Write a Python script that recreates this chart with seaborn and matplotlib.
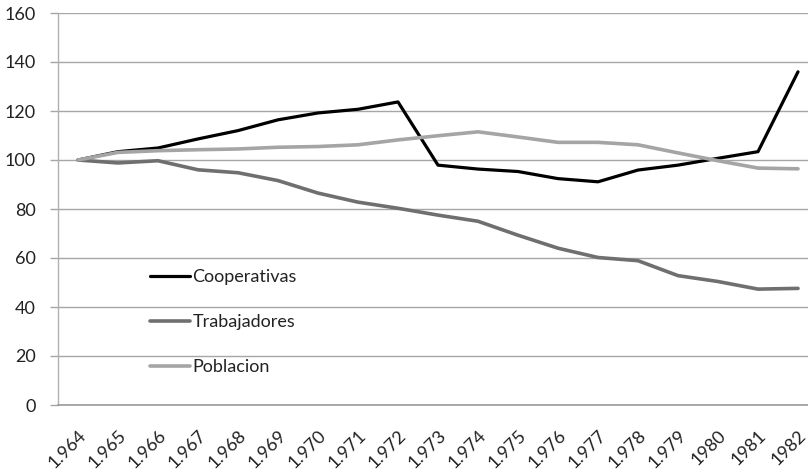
import matplotlib
matplotlib.use("Agg")
import matplotlib.pyplot as plt
import seaborn as sns
import pandas as pd
import numpy as np

years = ["1.964", "1.965", "1.966", "1.967", "1.968", "1.969", "1.970", "1.971",
         "1.972", "1.973", "1.974", "1.975", "1.976", "1.977", "1.978", "1.979",
         "1980", "1981", "1982"]
cooperativas = [100, 103.4, 104.9, 108.6, 112.0, 116.4, 119.2, 120.7, 123.7, 97.9,
                96.3, 95.3, 92.4, 91.1, 95.9, 97.9, 100.7, 103.4, 136.0]
trabajadores = [100, 98.8, 99.7, 96.0, 94.8, 91.6, 86.5, 82.8, 80.3, 77.5,
                75.0, 69.3, 64.0, 60.2, 58.9, 52.8, 50.4, 47.3, 47.6]
poblacion = [100, 103.1, 103.8, 104.2, 104.5, 105.2, 105.5, 106.2, 108.2, 109.9,
             111.5, 109.4, 107.2, 107.2, 106.2, 102.9, 99.7, 96.7, 96.4]

series_names = ["Cooperativas", "Trabajadores", "Poblacion"]
series_colors = ["#000000", "#6f6f6f", "#a5a5a5"]
series_widths = [2.3, 2.6, 2.6]

idx = np.arange(len(years))
df = pd.DataFrame({
    "idx": np.tile(idx, 3),
    "valor": cooperativas + trabajadores + poblacion,
    "serie": np.repeat(series_names, len(years)),
})

sns.set_theme(style="white")
plt.rcParams["font.family"] = ["Lato", "DejaVu Sans"]

fig = plt.figure(figsize=(8.08, 4.72), dpi=100)
ax = fig.add_axes([58 / 808, 67 / 472, 760 / 808, 392 / 472])

for name, col, lw in zip(series_names, series_colors, series_widths):
    sns.lineplot(data=df[df["serie"] == name], x="idx", y="valor", color=col,
                 linewidth=lw, label=name, ax=ax, solid_joinstyle="round")

ax.set_xlim(-0.5, len(years) - 0.5)
ax.set_ylim(0, 160)
ax.set_yticks(np.arange(0, 161, 20))
ax.yaxis.grid(True, color="#a6a6a6", linewidth=1.0)
ax.set_axisbelow(True)

ax.set_xticks(idx)
ax.set_xticklabels(years, rotation=45, ha="right", rotation_mode="anchor")
ax.set_xticks(np.arange(-0.5, len(years), 1), minor=True)
ax.tick_params(axis="x", which="major", length=0, pad=16, labelsize=13, colors="#222222")
ax.tick_params(axis="x", which="minor", length=6, width=1, color="#9a9a9a", direction="out")
ax.tick_params(axis="y", length=6, width=1, color="#a6a6a6", direction="out",
               labelsize=13, colors="#222222", pad=10, left=True)
for lab in ax.get_xticklabels():
    lab.set_color("#222222")
for lab in ax.get_yticklabels():
    lab.set_color("#222222")

for s in ["top", "right"]:
    ax.spines[s].set_visible(False)
ax.spines["left"].set_color("#b0b0b0")
ax.spines["left"].set_linewidth(1.0)
ax.spines["bottom"].set_color("#9a9a9a")
ax.spines["bottom"].set_linewidth(1.2)
ax.set_xlabel("")
ax.set_ylabel("")

leg = ax.legend(loc="upper left", bbox_to_anchor=(92 / 760, (405 - 269) / 392),
                frameon=False, fontsize=13, handlelength=2.2, handletextpad=0.15,
                labelspacing=1.62, borderaxespad=0, borderpad=0)
for t in leg.get_texts():
    t.set_color("#222222")

fig.savefig("out.png", dpi=100)
